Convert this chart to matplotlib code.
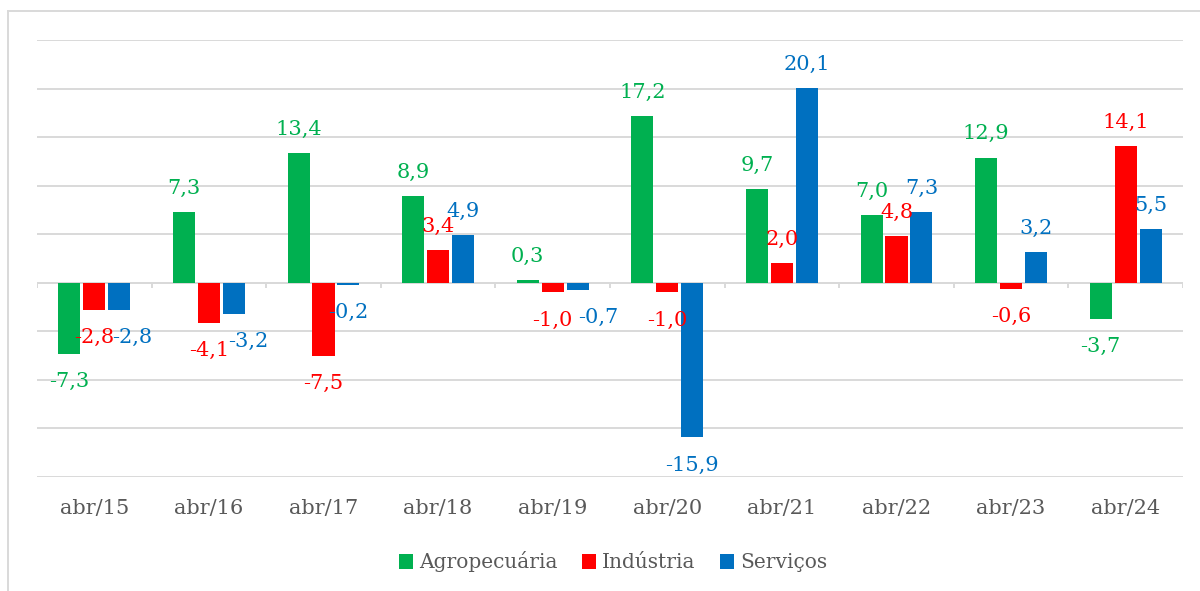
import matplotlib
matplotlib.use("Agg")
import matplotlib.pyplot as plt
from matplotlib.lines import Line2D
import numpy as np

categorias = ["abr/15", "abr/16", "abr/17", "abr/18", "abr/19",
              "abr/20", "abr/21", "abr/22", "abr/23", "abr/24"]
agropecuaria = [-7.3, 7.3, 13.4, 8.9, 0.3, 17.2, 9.7, 7.0, 12.9, -3.7]
industria = [-2.8, -4.1, -7.5, 3.4, -1.0, -1.0, 2.0, 4.8, -0.6, 14.1]
servicos = [-2.8, -3.2, -0.2, 4.9, -0.7, -15.9, 20.1, 7.3, 3.2, 5.5]

series = [("Agropecuária", agropecuaria, "#00B050"),
          ("Indústria", industria, "#FF0000"),
          ("Serviços", servicos, "#0070C0")]

# deslocamento horizontal (pts) de alguns rótulos que o Excel afastou
ajuste_x = {(0, 2): 9, (1, 2): 10, (4, 2): 15}

plt.rcParams["font.family"] = ["DejaVu Serif"]
cinza = "#595959"
grade = "#d9d9d9"

fig = plt.figure(figsize=(12, 5.91), dpi=100)
ax = fig.add_axes([37 / 1200, 1 - 477 / 591, 1146 / 1200, 437 / 591])

x = np.arange(len(categorias))
passo = 0.218
largura = 0.192

for j, (nome, valores, cor) in enumerate(series):
    pos = x + (j - 1) * passo
    ax.bar(pos, valores, width=largura, color=cor, label=nome, zorder=3)
    for i, v in enumerate(valores):
        dx = ajuste_x.get((i, j), 0)
        dy = 17 if v >= 0 else -20
        ax.annotate(f"{v:.1f}".replace(".", ","), (pos[i], v),
                    xytext=(dx, dy), textcoords="offset points",
                    ha="center", va="center", color=cor, fontsize=15, zorder=4)

ax.set_xlim(-0.5, len(categorias) - 0.5)
ax.set_ylim(-20, 25)
ax.set_yticks(np.arange(-20, 26, 5))
ax.yaxis.grid(True, color=grade, linewidth=1.4, zorder=0)
ax.tick_params(axis="y", left=False, labelleft=False)
ax.set_xticks(x)
ax.set_xticklabels(categorias, color=cinza, fontsize=15)
ax.tick_params(axis="x", length=0, pad=16)
for s in ax.spines.values():
    s.set_visible(False)

# eixo horizontal no zero com marcas entre categorias
ax.axhline(0, color=grade, linewidth=1.4, zorder=2)
ax.vlines(np.arange(len(categorias) + 1) - 0.5, -0.55, 0, color=grade,
          linewidth=1.4, zorder=2)

fig.legend(loc="center", bbox_to_anchor=(613 / 1200, 1 - 562 / 591), ncol=3,
           frameon=False, fontsize=14.5, labelcolor=cinza, handlelength=0.7,
           handleheight=0.7, handletextpad=0.3, columnspacing=1.2)

# moldura do gráfico (cortada à direita e embaixo)
fig.add_artist(Line2D([8 / 1200, 8 / 1200], [0, 1 - 11 / 591],
                      transform=fig.transFigure, color=grade, linewidth=1.4))
fig.add_artist(Line2D([8 / 1200, 1], [1 - 11 / 591, 1 - 11 / 591],
                      transform=fig.transFigure, color=grade, linewidth=1.4))

fig.savefig("out.png", dpi=100, facecolor="white")
